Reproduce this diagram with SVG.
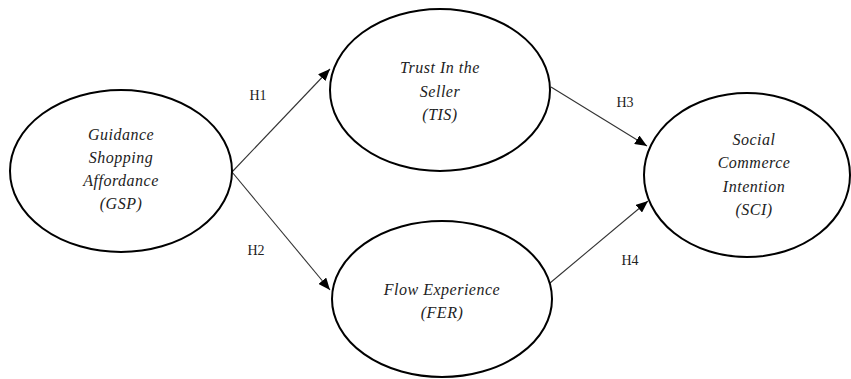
<svg xmlns="http://www.w3.org/2000/svg" width="851" height="379" viewBox="0 0 851 379">
<defs>
<marker id="arr" viewBox="0 0 12 10" refX="12" refY="5" markerWidth="12" markerHeight="10" markerUnits="userSpaceOnUse" orient="auto">
<path d="M0,0 L12,5 L0,10 Z" fill="#000"/>
</marker>
</defs>
<style>
.node ellipse{fill:#fff;stroke:#000;stroke-width:2}
.node text{font-style:italic;font-size:16px;fill:#222;text-anchor:middle;letter-spacing:0.5px}
.conn line{stroke:#333;stroke-width:1.1;marker-end:url(#arr)}
.lbl{font-size:14px;fill:#222;text-anchor:middle}
</style>
<rect width="851" height="379" fill="#fff"/>
<g id="connectors" class="conn">
<line x1="232" y1="172" x2="330" y2="69"/>
<line x1="232" y1="172" x2="330" y2="290"/>
<line x1="551" y1="87" x2="647" y2="146"/>
<line x1="550" y1="283" x2="648" y2="201"/>
</g>
<g id="labels" font-family="Liberation Serif, DejaVu Serif, serif">
<text class="lbl" x="258" y="100">H1</text>
<text class="lbl" x="256" y="255">H2</text>
<text class="lbl" x="625" y="107">H3</text>
<text class="lbl" x="630" y="265">H4</text>
</g>
<g id="GSP" class="node" font-family="Liberation Serif, DejaVu Serif, serif">
<ellipse cx="121" cy="171" rx="111" ry="81"/>
<text x="121" y="140">Guidance</text>
<text x="121" y="163">Shopping</text>
<text x="121" y="186">Affordance</text>
<text x="121" y="209">(GSP)</text>
</g>
<g id="TIS" class="node" font-family="Liberation Serif, DejaVu Serif, serif">
<ellipse cx="440" cy="90" rx="110" ry="81"/>
<text x="440" y="73">Trust In the</text>
<text x="440" y="97">Seller</text>
<text x="440" y="120">(TIS)</text>
</g>
<g id="FER" class="node" font-family="Liberation Serif, DejaVu Serif, serif">
<ellipse cx="442" cy="299" rx="110" ry="78"/>
<text x="442" y="295">Flow Experience</text>
<text x="442" y="318">(FER)</text>
</g>
<g id="SCI" class="node" font-family="Liberation Serif, DejaVu Serif, serif">
<ellipse cx="747" cy="175" rx="103" ry="82"/>
<text x="754" y="145">Social</text>
<text x="754" y="168">Commerce</text>
<text x="754" y="192">Intention</text>
<text x="754" y="215">(SCI)</text>
</g>
</svg>
